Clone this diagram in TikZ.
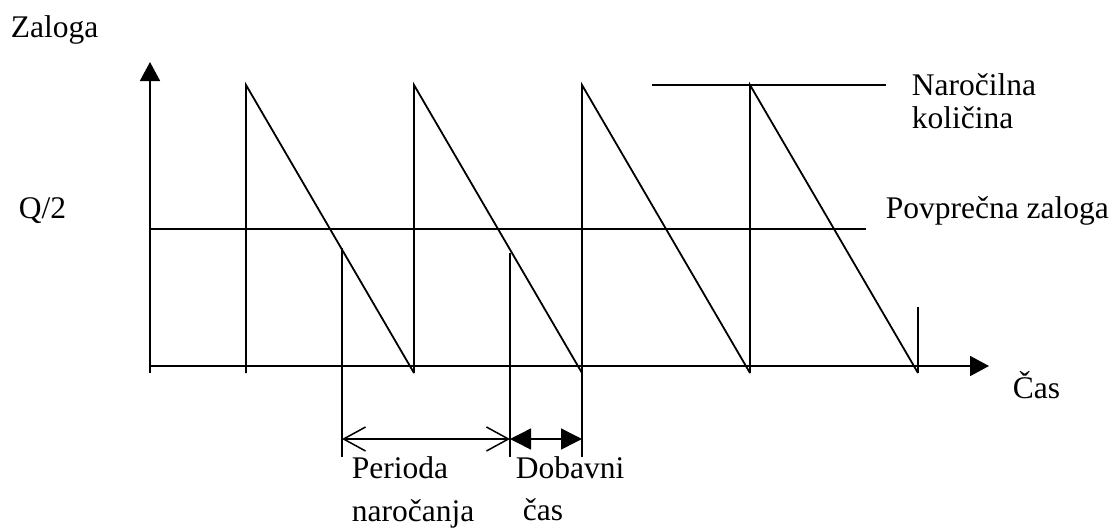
\documentclass[tikz,border=0pt]{standalone}
\usepackage{fontspec}
\setmainfont{Liberation Serif}
\usetikzlibrary{arrows.meta}
\begin{document}
\begin{tikzpicture}[x=1pt,y=-1pt,line width=1.8pt,
  lbl/.style={anchor=base west,inner sep=0pt,font=\fontsize{31.5}{33}\selectfont},
  axisarrow/.style={-{Triangle[length=19pt,width=20pt]}},
  openarrows/.style={{Straight Barb[length=22pt,width=24pt]}-{Straight Barb[length=22pt,width=24pt]}},
  fillarrows/.style={{Triangle[length=21pt,width=21pt]}-{Triangle[length=21pt,width=21pt]}}]
\useasboundingbox (0,0) rectangle (1116,528);
% coordinates
\coordinate (o) at (150,373);
\coordinate (ytop) at (150,62);
\coordinate (xl) at (150,366);
\coordinate (xr) at (989,366);
% axes
\draw[axisarrow] (o) -- (ytop);
\draw[axisarrow] (xl) -- (xr);
% average line
\coordinate (avgl) at (150,229);
\coordinate (avgr) at (866,229);
\draw (avgl) -- (avgr);
% order quantity line
\coordinate (qtl) at (652,85);
\coordinate (qtr) at (886,85);
\draw (qtl) -- (qtr);
% saw teeth
\foreach \a/\b in {246/414,414/582,582/750,750/918}{
  \draw (\a,373) -- (\a,85) -- (\b,373);
}
% last small vertical
\draw (918,373) -- (918,307);
% order points / lead time
\coordinate (p1t) at (342,248);
\coordinate (p1b) at (342,457);
\coordinate (p2t) at (510,253);
\coordinate (p2b) at (510,457);
\coordinate (p3t) at (582,373);
\coordinate (p3b) at (582,457);
\draw (p1t) -- (p1b);
\draw (p2t) -- (p2b);
\draw (p3t) -- (p3b);
% dimension arrows
\coordinate (d1) at (342,439);
\coordinate (d2) at (510,439);
\coordinate (d3) at (582,439);
\draw[openarrows,line width=1.5pt] (d1) -- (d2);
\draw[fillarrows,line width=1.5pt] (d2) -- (d3);
% labels
\node[lbl] (zal) at (10,37) {Zaloga};
\node[lbl] (q2) at (18,218) {Q/2};
\node[lbl] (nar1) at (911,95) {Naročilna};
\node[lbl] (nar2) at (911,128) {količina};
\node[lbl] (povp) at (885,218) {Povprečna zaloga};
\node[lbl] (cas) at (1012,398) {Čas};
\node[lbl] (per1) at (351,478) {Perioda};
\node[lbl] (per2) at (351,521) {naročanja};
\node[lbl] (dob1) at (515,478) {Dobavni};
\node[lbl] (dob2) at (522,520) {čas};
\end{tikzpicture}
\end{document}
